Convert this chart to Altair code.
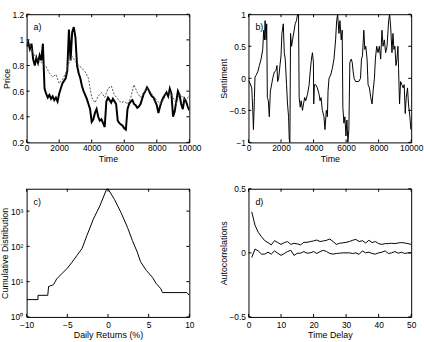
import altair as alt
import pandas as pd

FONT = "Liberation Sans"
W, H = 165, 130

# ---------------- data ----------------
price_t = list(range(0, 10001, 100))
price_solid = [0.95, 0.98, 0.93, 0.97, 0.85, 0.80, 0.86, 0.82, 0.88, 0.84,
               0.97, 0.62, 0.58, 0.55, 0.57, 0.54, 0.56, 0.53, 0.55, 0.52,
               0.58, 0.62, 0.66, 0.68, 0.70, 0.76, 1.08, 0.84, 1.06, 1.10,
               1.02, 0.80, 0.74, 0.70, 0.64, 0.60, 0.57, 0.54, 0.50, 0.46,
               0.36, 0.38, 0.43, 0.46, 0.40, 0.37, 0.38, 0.35, 0.32, 0.52,
               0.55, 0.53, 0.51, 0.54, 0.52, 0.50, 0.37, 0.35, 0.34, 0.33,
               0.31, 0.30, 0.46, 0.50, 0.52, 0.53, 0.50, 0.49, 0.47, 0.48,
               0.50, 0.54, 0.58, 0.60, 0.63, 0.61, 0.58, 0.56, 0.55, 0.52,
               0.49, 0.43, 0.48, 0.52, 0.55, 0.57, 0.59, 0.56, 0.62, 0.58,
               0.40, 0.44, 0.52, 0.60, 0.57, 0.50, 0.46, 0.54, 0.52, 0.48,
               0.45]
fund_t = list(range(0, 10001, 200))
price_dotted = [0.97, 0.96, 0.90, 0.86, 0.83, 0.82, 0.79, 0.74, 0.71, 0.73,
                0.66, 0.69, 0.74, 0.82, 0.87, 0.83, 0.80, 0.78, 0.75, 0.70,
                0.55, 0.51, 0.56, 0.59, 0.55, 0.62, 0.64, 0.57, 0.54, 0.51,
                0.52, 0.50, 0.55, 0.65, 0.59, 0.55, 0.59, 0.62, 0.60, 0.56,
                0.53, 0.50, 0.53, 0.58, 0.60, 0.55, 0.50, 0.58, 0.55, 0.52,
                0.57]

sent_t = [0, 100, 200, 265, 305, 365, 400, 470, 570, 670, 775, 875, 935, 980,
          1020, 1080, 1120, 1160, 1220, 1280, 1345, 1385, 1490, 1590, 1690,
          1750, 1790, 1855, 1935, 2000, 2055, 2140, 2200, 2260, 2340, 2400,
          2465, 2505, 2545, 2585, 2650, 2710, 2810, 2870, 2950, 3015, 3075,
          3115, 3180, 3240, 3320, 3380, 3460, 3520, 3625, 3730, 3790, 3870,
          3930, 3990, 4010, 4050, 4135, 4235, 4340, 4400, 4460, 4540, 4640,
          4700, 4785, 4850, 4890, 4950, 5050, 5150, 5255, 5355, 5420, 5480,
          5560, 5620, 5700, 5760, 5800, 5865, 5925, 5990, 6050, 6110, 6170,
          6230, 6315, 6375, 6435, 6495, 6580, 6780, 6885, 6945, 7005, 7090,
          7150, 7210, 7290, 7350, 7435, 7515, 7595, 7660, 7740, 7800, 7880,
          7965, 8045, 8125, 8205, 8270, 8350, 8430, 8515, 8615, 8675, 8740,
          8820, 8880, 8940, 9000, 9065, 9125, 9185, 9225, 9285, 9350, 9430,
          9510, 9570, 9635, 9695, 9775, 9835, 9920, 9980]
sentiment = [-0.03, -0.08, -0.15, -0.5, -0.8, -0.3, 0.02, 0.05, 0.1, 0.2,
             0.3, 0.45, 0.75, 0.6, 0.9, 0.6, 0.85, -0.3, -0.35, -0.6, -0.2,
             -0.15, 0.0, 0.1, 0.12, 0.2, -0.05, 0.0, 0.2, 0.35, 0.7, 0.85,
             0.4, 0.3, -0.1, -0.4, -0.6, -0.95, -1.0, 0.7, 0.5, 0.6, 0.75,
             0.85, 0.9, 1.0, 1.0, -0.3, -0.45, -0.35, -0.5, -0.4, -0.3,
             -0.35, -0.25, -0.1, 0.1, 0.3, 0.4, 0.25, -0.4, -0.1, -0.1,
             -0.15, -0.25, -0.35, -0.3, -0.5, -0.6, -0.8, -0.5, -0.6, -0.2,
             0.0, 0.05, 0.15, 0.3, 0.6, 0.9, 1.0, 0.7, 0.9, 0.6, 0.75,
             -0.45, -0.7, -0.6, -0.9, -0.65, -1.0, -0.8, 0.25, 0.3, 0.25,
             0.1, 0.0, -0.05, -0.05, 0.0, 0.3, 0.35, 0.75, 0.45, 0.5, 0.3,
             -0.1, -0.15, -0.3, -0.4, -0.2, 0.0, 0.3, 0.5, 0.4, 0.5, 0.3,
             0.75, 0.5, 0.6, 0.4, 0.5, 0.9, 1.0, 0.8, 0.4, 0.7, 0.45, 0.5,
             0.2, 0.3, 0.5, 0.15, -0.4, -0.05, -0.1, -0.15, -0.1, -0.55,
             -0.3, -0.15, -0.4, -0.6, -0.8]

ret_x = [-10, -8.6, -8.6, -7.4, -7.3, -6.7, -6.3, -5.65, -5.0, -4.4, -3.8,
         -3.2, -2.6, -1.8, -1.0, -0.15, 0.0, 0.8, 1.6, 2.4, 3.0, 3.6, 4.0,
         4.7, 5.5, 5.9, 6.5, 6.7, 9.7, 10]
ret_cdf = [3.1, 3.1, 4.1, 4.1, 7.3, 8.2, 12, 17, 24, 36, 56, 86, 200, 590,
           1400, 4300, 4300, 2140, 910, 345, 147, 69, 37, 21, 13, 9, 6.3,
           4.9, 4.9, 4.1]

lags = list(range(1, 51))
acf_abs = [0.32, 0.216, 0.16, 0.126, 0.095, 0.08, 0.062, 0.095, 0.08, 0.066,
           0.08, 0.088, 0.066, 0.075, 0.07, 0.062, 0.082, 0.082, 0.088, 0.093,
           0.1, 0.088, 0.093, 0.098, 0.108, 0.088, 0.066, 0.075, 0.078, 0.082,
           0.088, 0.098, 0.105, 0.088, 0.095, 0.077, 0.098, 0.08, 0.088, 0.072,
           0.066, 0.072, 0.072, 0.075, 0.072, 0.077, 0.08, 0.077, 0.072, 0.066]
acf_raw = [-0.036, 0.03, 0.015, -0.01, -0.01, 0.005, -0.01, 0.015, -0.003, -0.02,
           -0.005, 0.01, 0.02, -0.02, -0.003, -0.003, 0.01, -0.003, 0.0, 0.01,
           -0.005, 0.01, 0.02, 0.01, -0.005, -0.01, -0.005, -0.003, 0.0, 0.0,
           0.0, -0.005, 0.0, -0.012, 0.015, 0.0, 0.005, -0.005, -0.01, 0.0,
           0.005, 0.015, -0.005, 0.0, 0.01, -0.003, 0.005, -0.005, 0.0, 0.0]

a_xticks = [0, 2000, 4000, 6000, 8000, 10000]
a_yticks = [0.2, 0.4, 0.6, 0.8, 1.0, 1.2]
b_yticks = [-1, -0.5, 0, 0.5, 1]
c_xticks = [-10, -5, 0, 5, 10]
c_yticks = [1, 10, 100, 1000]
d_xticks = [0, 10, 20, 30, 40, 50]
d_yticks = [-0.5, 0, 0.5]

TL = 3  # inner tick length


def panel(lines, xdom, ydom, xticks, yticks, xtitle, ytitle, label,
          ylog=False, yfmt="~g", ylabel_expr=None, xlabel_pad=1.5, ylabel_pad=3):
    xs = alt.Scale(domain=xdom, nice=False, zero=False)
    if ylog:
        ys = alt.Scale(type="log", domain=ydom, nice=False)
    else:
        ys = alt.Scale(domain=ydom, nice=False, zero=False)
    yaxis_kw = dict(values=yticks, ticks=False, domain=False, grid=False,
                    labelPadding=ylabel_pad, title=ytitle, titlePadding=1,
                    labelOverlap=False, labelFlush=False)
    if ylabel_expr:
        yaxis_kw["labelExpr"] = ylabel_expr
    else:
        yaxis_kw["format"] = yfmt
    xaxis = alt.Axis(values=xticks, format="d", ticks=False, domain=False,
                     grid=False, labelPadding=xlabel_pad, title=xtitle,
                     titlePadding=2, labelOverlap=False, labelFlush=False)
    yaxis = alt.Axis(**yaxis_kw)

    rows = []
    for k, (xv, yv) in enumerate(lines):
        rows += [{"x": a, "y": b, "s": k} for a, b in zip(xv, yv)]
    df = pd.DataFrame(rows)
    base = alt.Chart(df).encode(
        x=alt.X("x:Q", scale=xs, axis=xaxis),
        y=alt.Y("y:Q", scale=ys, axis=yaxis),
    )
    layers = []
    for k in range(len(lines)):
        st = styles[label][k]
        layers.append(base.transform_filter(alt.datum.s == k).mark_line(clip=True, **st))

    xt = pd.DataFrame({"x": xticks})
    yt = pd.DataFrame({"y": yticks})
    rx = alt.X("x:Q", scale=xs, axis=xaxis)
    ry = alt.Y("y:Q", scale=ys, axis=yaxis)
    layers += [
        alt.Chart(xt).mark_rule(color="black", strokeWidth=1).encode(
            x=rx, y=alt.value(H), y2=alt.value(H - TL)),
        alt.Chart(xt).mark_rule(color="black", strokeWidth=1).encode(
            x=rx, y=alt.value(0), y2=alt.value(TL)),
        alt.Chart(yt).mark_rule(color="black", strokeWidth=1).encode(
            y=ry, x=alt.value(0), x2=alt.value(TL)),
        alt.Chart(yt).mark_rule(color="black", strokeWidth=1).encode(
            y=ry, x=alt.value(W - TL), x2=alt.value(W)),
        alt.Chart(pd.DataFrame({"t": [label]})).mark_text(
            align="left", baseline="top", fontSize=9, font=FONT, color="black"
        ).encode(text="t:N", x=alt.value(7), y=alt.value(9)),
    ]
    return alt.layer(*layers).properties(width=W, height=H)


solid = dict(color="black", strokeWidth=1)
styles = {
    "a)": [dict(color="black", strokeWidth=2),
           dict(color="#555555", strokeWidth=1, strokeDash=[2, 1.5])],
    "b)": [solid],
    "c)": [solid],
    "d)": [solid, solid],
}

pa = panel([(price_t, price_solid), (fund_t, price_dotted)],
           [0, 10000], [0.2, 1.2], a_xticks, a_yticks, "Time", "Price", "a)")
pb = panel([(sent_t, sentiment)],
           [0, 10000], [-1, 1], a_xticks, b_yticks, "Time", "Sentiment", "b)")
pc = panel([(ret_x, ret_cdf)],
           [-10, 10], [1, 4300], c_xticks, c_yticks, "Daily Returns (%)",
           "Cumulative Distribution", "c)", ylog=True, xlabel_pad=3.5,
           ylabel_pad=4,
           ylabel_expr="'10' + ['\u2070','\u00b9','\u00b2','\u00b3'][round(log(datum.value)/LN10)]")
pd_ = panel([(lags, acf_abs), (lags, acf_raw)],
            [0, 50], [-0.5, 0.5], d_xticks, d_yticks, "Time Delay",
            "Autocorrelations", "d)", xlabel_pad=3.5)

chart = alt.concat(pa, pb, pc, pd_, columns=2, spacing={"row": 47, "column": 60},
                   bounds="flush").properties(
    padding={"left": 0, "top": 7, "right": 0, "bottom": 0},
    background="white",
).configure_view(stroke="black", strokeWidth=1).configure_axis(
    labelFont=FONT, titleFont=FONT, labelFontSize=8.5, titleFontSize=9,
    labelColor="black", titleColor="black", titleFontWeight="normal",
)

chart.save("out.html", embed_options={"renderer": "svg", "actions": False})
